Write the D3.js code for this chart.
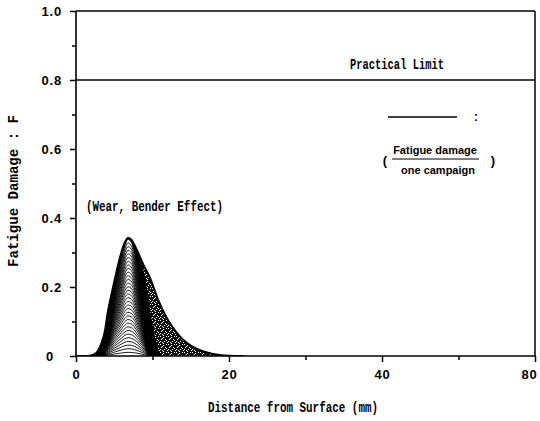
<!DOCTYPE html>
<html><head><meta charset="utf-8">
<script src="https://cdn.jsdelivr.net/npm/d3@7"></script>
<style>
html,body{margin:0;padding:0;background:#fff;}
svg{display:block;}
</style></head>
<body>
<svg id="chart" width="540" height="421"></svg>
<script>
// ---------- data ----------
// outer envelope of accumulated fatigue damage (distance mm, F)
const envelopeX = [0,1.5,2.2,2.8,3.3,3.8,4.1,4.6,5.2,5.8,6.3,6.8,7.2,7.8,8.3,8.8,9.7,10.7,12.0,13.0,14.0,15.0,16.2,17.5,18.8,20,22];
const envelopeF = [0,0,0.003,0.013,0.035,0.075,0.12,0.175,0.235,0.29,0.325,0.343,0.338,0.315,0.29,0.265,0.225,0.165,0.105,0.072,0.047,0.03,0.017,0.008,0.003,0.001,0];
// dense (black) zone of overlapping campaign curves
const denseX = [2.2,2.8,3.3,3.8,4.1,4.6,5.2,5.8,6.3,6.8,7.3,7.9,8.5,8.9,9.3,9.7,10.1,10.5,10.9,11.3];
const denseF = [0.003,0.013,0.035,0.075,0.12,0.175,0.235,0.29,0.325,0.343,0.336,0.31,0.27,0.24,0.19,0.13,0.08,0.04,0.012,0];
// final campaign curve of the separated (striped) family
const coreX = [3.0,3.5,4.0,4.5,5.0,5.5,6.0,6.4,6.8,7.2,7.6,8.1,8.6,9.0,9.3,9.5,9.7];
const coreF = [0,0.02,0.06,0.12,0.18,0.232,0.283,0.32,0.338,0.331,0.303,0.243,0.173,0.113,0.06,0.025,0];
// number of campaigns drawn (each line = fatigue damage of one campaign added)
const campaigns = 32;
const practicalLimit = [0.8];

const xMajor = [0,20,40,60];
const xMajorLabels = ["0","20","40","80"];
const xMinor = [10,30,50];
const yMajor = [0,0.2,0.4,0.6,0.8,1.0];
const yMajorLabels = ["0","0.2","0.4","0.6","0.8","1.0"];
const yMinor = [0.1,0.3,0.5,0.7,0.9];

// ---------- drawing ----------
const svg = d3.select("#chart");
const L = 76, R = 535, T = 11, B = 356;
const x = d3.scaleLinear().domain([0,60]).range([L,R]);
const y = d3.scaleLinear().domain([0,1]).range([B,T]);

const mono = "'Liberation Mono','DejaVu Sans Mono',monospace";
const sans = "'Liberation Sans','Arial',sans-serif";

// stipple pattern
const defs = svg.append("defs");
const pat = defs.append("pattern").attr("id","stip").attr("patternUnits","userSpaceOnUse")
  .attr("width",8).attr("height",8);
pat.append("rect").attr("width",8).attr("height",8).attr("fill","#111");
[[0,0],[3,1],[6,0],[1,3],[5,3],[4,5],[7,6],[2,6],[0,5],[6,4],[3,7],[2,2]].forEach(p=>{
  pat.append("rect").attr("x",p[0]).attr("y",p[1]).attr("width",1).attr("height",1).attr("fill","#fff");
});
const clip = defs.append("clipPath").attr("id","plotclip");
clip.append("rect").attr("x",L).attr("y",T).attr("width",R-L).attr("height",B-T);

const zip = (xs,fs)=>xs.map((v,i)=>[v,fs[i]]);
const area = d3.area().x(d=>x(d[0])).y0(y(0)).y1(d=>y(d[1])).curve(d3.curveMonotoneX);
const line = d3.line().x(d=>x(d[0])).y(d=>y(d[1])).curve(d3.curveMonotoneX);

const g = svg.append("g").attr("clip-path","url(#plotclip)");
const env = zip(envelopeX,envelopeF);
g.append("path").attr("d",area(env)).attr("fill","url(#stip)");
g.append("path").attr("d",area(zip(denseX,denseF))).attr("fill","#000");
const core = zip(coreX,coreF);
g.append("path").attr("d",area(core)).attr("fill","#fff");
const ks = d3.range(1,campaigns+1);
g.selectAll("path.camp").data(ks).join("path").attr("class","camp")
  .attr("d",k=>line(core.map(d=>[d[0],d[1]*k/campaigns])))
  .attr("fill","none").attr("stroke","#000").attr("stroke-width",0.9);
g.append("path").attr("d",line(env)).attr("fill","none").attr("stroke","#000").attr("stroke-width",2);

// practical limit line
svg.selectAll("line.limit").data(practicalLimit).join("line").attr("class","limit")
  .attr("x1",L).attr("x2",R).attr("y1",d=>y(d)).attr("y2",d=>y(d))
  .attr("stroke","#000").attr("stroke-width",1.5);

// frame
svg.append("line").attr("x1",L).attr("x2",R).attr("y1",T).attr("y2",T).attr("stroke","#000").attr("stroke-width",1.5);
svg.append("line").attr("x1",R).attr("x2",R).attr("y1",T).attr("y2",B).attr("stroke","#000").attr("stroke-width",1.5);

// axes
const yAxis = svg.append("g").attr("transform",`translate(${L},0)`)
  .call(d3.axisLeft(y).tickValues(yMajor).tickFormat((d,i)=>yMajorLabels[i]).tickSize(6).tickPadding(8));
const yMinorAx = svg.append("g").attr("transform",`translate(${L},0)`)
  .call(d3.axisLeft(y).tickValues(yMinor).tickFormat("").tickSize(4));
const xAxis = svg.append("g").attr("transform",`translate(0,${B})`)
  .call(d3.axisBottom(x).tickValues(xMajor).tickFormat((d,i)=>xMajorLabels[i]).tickSize(6).tickPadding(8));
const xMinorAx = svg.append("g").attr("transform",`translate(0,${B})`)
  .call(d3.axisBottom(x).tickValues(xMinor).tickFormat("").tickSize(4));
[yAxis,yMinorAx,xAxis,xMinorAx].forEach(a=>{
  a.select(".domain").attr("stroke","#000").attr("stroke-width",1.6);
  a.selectAll(".tick line").attr("stroke","#000").attr("stroke-width",1.5);
  a.selectAll("text").attr("font-family",sans).attr("font-weight","bold")
    .attr("font-size",13).attr("letter-spacing","0.8px").attr("fill","#000");
});
yAxis.select(".domain").attr("d",`M0,${B}V${T}`);
xAxis.select(".domain").attr("d",`M${L},0H${R}`);
yMinorAx.select(".domain").remove();
xMinorAx.select(".domain").remove();
yAxis.selectAll(".tick text").filter((d,i)=>i===0).attr("x",-22);
xAxis.selectAll(".tick text").filter((d,i)=>i===xMajor.length-1).attr("x",-6);

// texts in typewriter style
function tw(txt,xx,yy,len,size){
  return svg.append("text").attr("x",xx).attr("y",yy).text(txt)
    .attr("font-family",mono).attr("font-weight","bold").attr("font-size",size||15)
    .attr("textLength",len).attr("lengthAdjust","spacingAndGlyphs").attr("fill","#000");
}
tw("Practical Limit",350,69,94);
tw("(Wear, Bender Effect)",86,211,137);
tw("Distance from Surface (mm)",208,412,170);
svg.append("text").text("Fatigue Damage : F")
  .attr("transform","translate(18,267) rotate(-90)")
  .attr("font-family",mono).attr("font-weight","bold").attr("font-size",15)
  .attr("textLength",152).attr("lengthAdjust","spacingAndGlyphs").attr("fill","#000");

// legend
svg.append("line").attr("x1",388).attr("x2",457).attr("y1",117).attr("y2",117).attr("stroke","#000").attr("stroke-width",1.5);
svg.append("text").attr("x",476).attr("y",121).attr("text-anchor","middle").text(":")
  .attr("font-family",sans).attr("font-weight","bold").attr("font-size",12);
svg.append("text").attr("x",435).attr("y",154).attr("text-anchor","middle").text("Fatigue damage")
  .attr("font-family",sans).attr("font-weight","bold").attr("font-size",11);
svg.append("line").attr("x1",392).attr("x2",479).attr("y1",159).attr("y2",159).attr("stroke","#000").attr("stroke-width",1.2);
svg.append("text").attr("x",438).attr("y",174).attr("text-anchor","middle").text("one campaign")
  .attr("font-family",sans).attr("font-weight","bold").attr("font-size",11);
svg.append("text").attr("x",385).attr("y",165).attr("text-anchor","middle").text("(")
  .attr("font-family",sans).attr("font-weight","bold").attr("font-size",13);
svg.append("text").attr("x",493).attr("y",165).attr("text-anchor","middle").text(")")
  .attr("font-family",sans).attr("font-weight","bold").attr("font-size",13);
</script>
</body></html>
